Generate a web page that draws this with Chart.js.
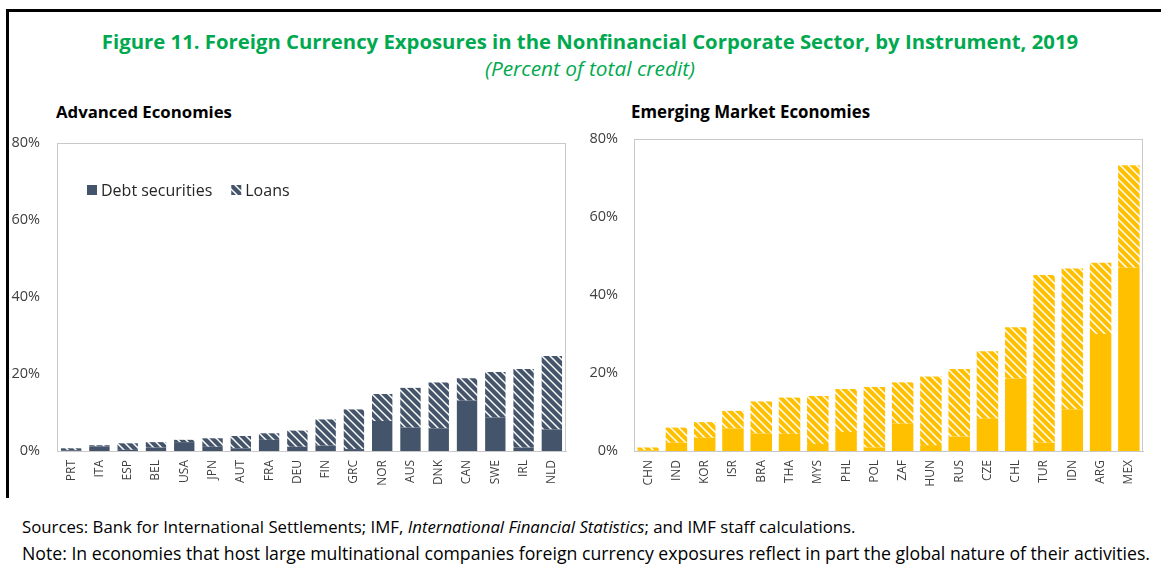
<!DOCTYPE html>
<html>
<head>
<meta charset="utf-8">
<script src="https://cdn.jsdelivr.net/npm/chart.js@4"></script>
<style>
html,body{margin:0;padding:0;background:#fff;}
body{width:1161px;height:582px;position:relative;overflow:hidden;font-family:"Open Sans",sans-serif;color:#000;}
.frameTop{position:absolute;left:6px;top:9px;width:1155px;height:3px;background:#000;}
.frameLeft{position:absolute;left:6px;top:9px;width:3px;height:489px;background:#000;}
.txt{position:absolute;white-space:nowrap;line-height:1;}
#title{top:31px;font-weight:700;color:#00A94F;font-size:19px;}
#subtitle{top:58px;font-style:italic;color:#00A94F;font-size:17px;}
.panel{top:104px;font-weight:700;font-size:15px;}
.note{font-size:15px;color:#000;}
canvas{position:absolute;}
</style>
</head>
<body>
<div class="frameTop"></div>
<div class="frameLeft"></div>
<div id="title" class="txt" data-cx="590" data-w="976">Figure 11. Foreign Currency Exposures in the Nonfinancial Corporate Sector, by Instrument, 2019</div>
<div id="subtitle" class="txt" data-cx="590" data-w="210">(Percent of total credit)</div>
<div id="pt1" class="txt panel" style="left:56px" data-w="176">Advanced Economies</div>
<div id="pt2" class="txt panel" style="left:631px" data-w="239">Emerging Market Economies</div>
<div id="src" class="txt note" style="left:22px;top:519px" data-w="833">Sources: Bank for International Settlements; IMF, <i>International Financial Statistics</i>; and IMF staff calculations.</div>
<div id="nt" class="txt note" style="left:22px;top:545px" data-w="1128">Note: In economies that host large multinational companies foreign currency exposures reflect in part the global nature of their activities.</div>

<canvas id="cAE" width="585" height="370" style="left:0;top:130px"></canvas>
<canvas id="cEM" width="576" height="370" style="left:585px;top:130px"></canvas>

<script>
// ---- Data (percent of total credit) ----
const aeCategories = ["PRT","ITA","ESP","BEL","USA","JPN","AUT","FRA","DEU","FIN","GRC","NOR","AUS","DNK","CAN","SWE","IRL","NLD"];
const aeDebt  = [0.2,1.2,0.3,0.9,2.3,1.1,0.7,2.9,1.1,1.4,0.5,7.8,6.1,5.9,13.1,8.7,0.9,5.6];
const aeLoans = [0.5,0.3,1.7,1.4,0.6,2.2,3.2,1.7,4.2,6.8,10.3,7.0,10.3,11.9,5.8,11.8,20.4,19.1];

const emCategories = ["CHN","IND","KOR","ISR","BRA","THA","MYS","PHL","POL","ZAF","HUN","RUS","CZE","CHL","TUR","IDN","ARG","MEX"];
const emDebt  = [0.2,2.1,3.4,5.8,4.5,4.4,1.8,4.9,0.9,7.0,1.5,3.7,8.3,18.6,2.1,10.7,30.0,47.0];
const emLoans = [0.7,3.9,4.0,4.5,8.2,9.3,12.3,11.0,15.5,10.6,17.6,17.3,17.3,13.1,43.0,36.1,18.3,26.3];

const seriesNames = ["Debt securities","Loans"];
const yTickValues = [0,20,40,60,80];

// ---- text fitting ----
document.querySelectorAll('.txt').forEach(el=>{
  const target = parseFloat(el.dataset.w);
  let fs = parseFloat(getComputedStyle(el).fontSize);
  for(let i=0;i<4;i++){
    const w = el.getBoundingClientRect().width;
    fs = fs*target/w; el.style.fontSize = fs+'px';
  }
  if(el.dataset.cx){
    const w = el.getBoundingClientRect().width;
    el.style.left = (parseFloat(el.dataset.cx)-w/2)+'px';
  }
});

// ---- hatch pattern ----
function hatch(color){
  const c = document.createElement('canvas');
  c.width = 8; c.height = 8;
  const x = c.getContext('2d');
  x.fillStyle = '#fff'; x.fillRect(0,0,8,8);
  x.strokeStyle = color; x.lineWidth = 4.2; x.lineCap='square';
  for(const k of [-8,0,8]){
    x.beginPath(); x.moveTo(k-1,-1); x.lineTo(k+9,9); x.stroke();
  }
  return x.createPattern(c,'repeat');
}

const frameBox = {
  id:'frameBox',
  afterDraw(chart){
    const a = chart.chartArea, ctx = chart.ctx;
    ctx.save(); ctx.strokeStyle = '#C9C9C9'; ctx.lineWidth = 1;
    ctx.strokeRect(Math.round(a.left)+0.5, Math.round(a.top)+0.5, Math.round(a.right-a.left)-1, Math.round(a.bottom-a.top));
    ctx.restore();
  }
};

const innerLegend = {
  id:'innerLegend',
  afterDraw(chart, args, opts){
    if(!opts.show) return;
    const ctx = chart.ctx;
    ctx.save();
    ctx.font = '16px "Open Sans"';
    ctx.textBaseline = 'middle';
    ctx.fillStyle = '#000';
    let x = opts.x, y = opts.y;
    chart.data.datasets.forEach((ds,i)=>{
      ctx.fillStyle = ds.backgroundColor;
      ctx.fillRect(x, y-5, 10, 10);
      ctx.fillStyle = '#262626';
      ctx.fillText(ds.label, x+14, y+1);
      x += 14 + ctx.measureText(ds.label).width + 19;
    });
    ctx.restore();
  }
};

function makeChart(id, cats, debt, loans, color, cfg){
  return new Chart(document.getElementById(id), {
    type:'bar',
    data:{
      labels:cats,
      datasets:[
        {label:seriesNames[0], data:debt, backgroundColor:color, borderWidth:0, barPercentage:1, categoryPercentage:cfg.bar},
        {label:seriesNames[1], data:loans, backgroundColor:hatch(color), borderWidth:0, barPercentage:1, categoryPercentage:cfg.bar}
      ]
    },
    plugins:[frameBox, innerLegend],
    options:{
      responsive:false, animation:false,
      layout:{padding:{top:cfg.top, right:cfg.right, left:0, bottom:0}},
      plugins:{
        legend:{display:false}, tooltip:{enabled:false},
        innerLegend:{show:cfg.legend, x:87, y:60}
      },
      scales:{
        x:{stacked:true,
           grid:{display:false, drawTicks:false},
           border:{display:true, color:'#C9C9C9'},
           ticks:{autoSkip:false, maxRotation:90, minRotation:90, padding:9, color:'#404040', font:{family:'"Open Sans"', size:12}},
           afterFit(s){ s.height = 49; s.paddingLeft = 0; s.paddingRight = 0; s.paddingTop = 0; s.paddingBottom = 0; }
        },
        y:{stacked:true, min:0, max:80,
           afterBuildTicks(s){ s.ticks = yTickValues.map(v=>({value:v})); },
           grid:{display:false, drawTicks:false},
           border:{display:false},
           ticks:{padding:cfg.tpad, color:'#404040', font:{family:'"Open Sans"', size:14.5}, callback:v=>v+'%'},
           afterFit(s){ s.width = cfg.yw; s.paddingTop = 0; s.paddingBottom = 0; s.paddingLeft = 0; s.paddingRight = 0; }
        }
      }
    }
  });
}

makeChart('cAE', aeCategories, aeDebt, aeLoans, '#44546A', {bar:0.72, top:13, right:19, yw:57, tpad:17, legend:true});
makeChart('cEM', emCategories, emDebt, emLoans, '#FFC000', {bar:0.76, top:9, right:18, yw:49, tpad:16, legend:false});
</script>
</body>
</html>
